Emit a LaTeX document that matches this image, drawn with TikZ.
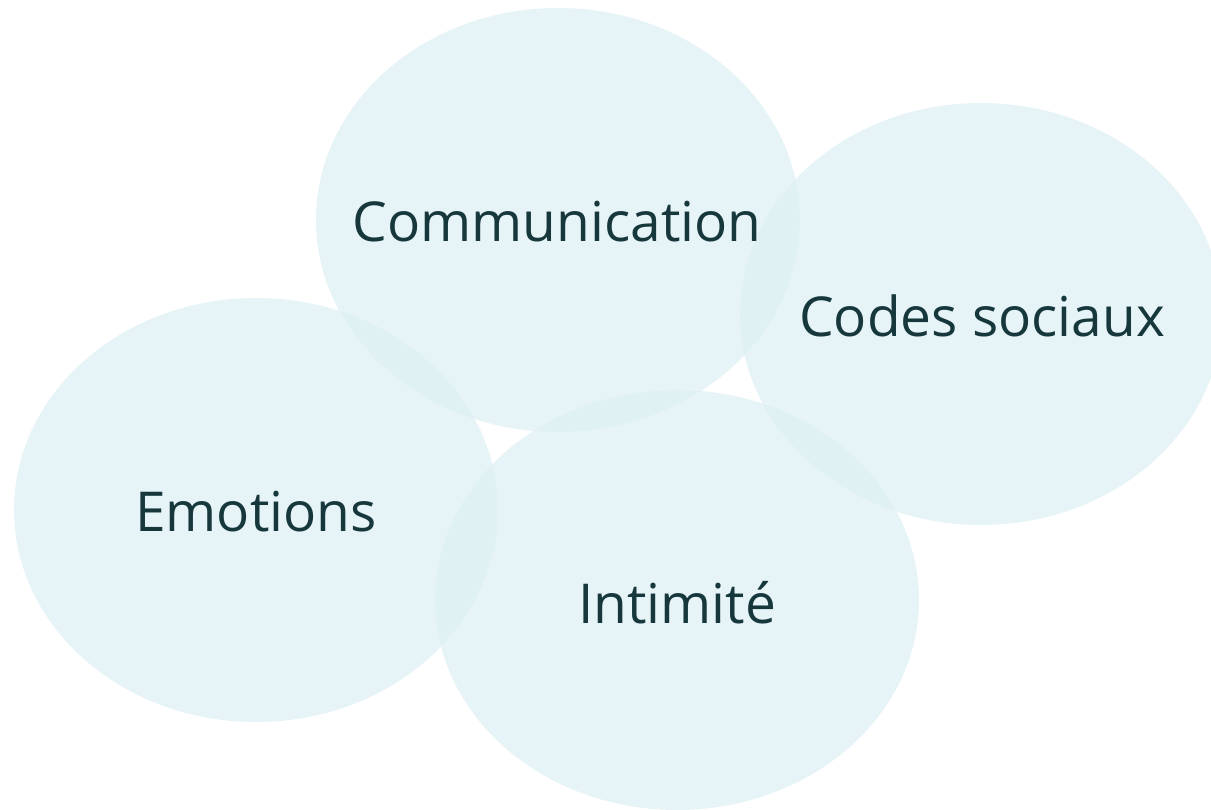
\documentclass[tikz,border=0pt]{standalone}
\usepackage{fontspec}
\setmainfont{Open Sans}
\definecolor{bubble}{RGB}{222,240,244}
\definecolor{ink}{RGB}{22,56,60}
\tikzset{
  bubble/.style={fill=bubble, fill opacity=0.7, draw=none},
  label/.style={inner sep=0pt, text=ink, font=\fontsize{55}{64}\selectfont}
}
\begin{document}
\begin{tikzpicture}[x=1pt,y=-1pt]
\clip (0,0) rectangle (1211,810);
\fill[white] (0,0) rectangle (1211,810);
\fill[bubble] (558,220) ellipse [x radius=242, y radius=212];
\fill[bubble] (981,314) ellipse [x radius=241, y radius=211];
\fill[bubble] (256,510) ellipse [x radius=242, y radius=212];
\fill[bubble] (677,600) ellipse [x radius=242, y radius=210];
\node[label] (comm) at (557,222) {Communication};
\node[label] (codes) at (982,316) {Codes sociaux};
\node[label] (emo) at (256,512) {Emotions};
\node[label] (inti) at (677,603) {Intimité};
\end{tikzpicture}
\end{document}
